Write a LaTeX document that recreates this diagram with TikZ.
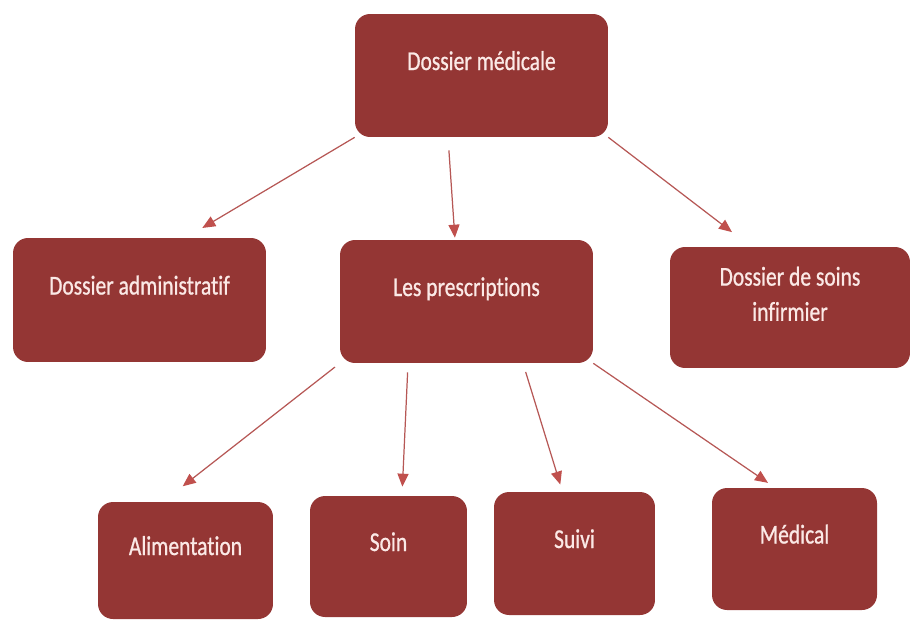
\documentclass[tikz,border=0pt]{standalone}
\usepackage{fontspec}
\setmainfont[FakeStretch=0.79,FakeBold=0.8,Ligatures=NoCommon]{Carlito}
\usetikzlibrary{calc}
\usetikzlibrary{arrows.meta}
\definecolor{boxred}{HTML}{943634}
\definecolor{arrowred}{HTML}{C0504D}
\definecolor{boxtext}{HTML}{FBE9E6}

\begin{document}
\begin{tikzpicture}
% pixel grid, y downwards
[
    x=0.02cm,y=-0.02cm,
    box/.style={rectangle,rounded corners=0.3cm,fill=boxred,text=boxtext,
      font=\fontsize{15.5pt}{20pt}\selectfont,align=center,
      text height=0.45cm,text depth=0.67cm,inner sep=0pt},
    link/.style={draw=arrowred!85!gray,line width=0.7pt,
      -{Triangle[length=0.26cm,width=0.22cm,color=arrowred]}}
]
\useasboundingbox (0,0) rectangle (911,619);

% top
\node[box,minimum width=5.06cm,minimum height=2.46cm] (dm) at (481.5,75.5) {Dossier médicale};

% second row
\node[box,minimum width=5.06cm,minimum height=2.48cm] (adm) at (139.5,300) {Dossier administratif};
\node[box,minimum width=5.06cm,minimum height=2.46cm] (pres) at (466.5,301.5) {Les prescriptions};
\node[box,minimum width=4.8cm,minimum height=2.42cm,text height=1.2cm] (soins) at (790,307.5) {Dossier de soins\\infirmier};

% third row
\node[box,minimum width=3.5cm,minimum height=2.34cm] (ali) at (185.5,560.5) {Alimentation};
\node[box,minimum width=3.14cm,minimum height=2.42cm] (soin) at (388.5,556.5) {Soin};
\node[box,minimum width=3.22cm,minimum height=2.46cm] (suivi) at (574.5,553.5) {Suivi};
\node[box,minimum width=3.3cm,minimum height=2.44cm] (med) at (794.5,549) {Médical};

% arrows from the top
\draw[link,shorten >=0.38cm] (dm.south west) -- ([xshift=0.93cm]adm.north);
\draw[link,shorten <=0.26cm,shorten >=0.04cm] ([xshift=-0.67cm]dm.south) -- ([xshift=-0.23cm]pres.north);
\draw[link,shorten >=0.48cm] (dm.south east) -- ([xshift=-0.78cm]soins.north);

% arrows from the prescriptions
\draw[link,shorten <=0.12cm,shorten >=0.5cm] (pres.south west) -- ([xshift=-0.45cm]ali.north);
\draw[link,shorten <=0.18cm,shorten >=0.18cm] ([xshift=-1.17cm]pres.south) -- ([xshift=0.27cm]soin.north);
\draw[link,shorten <=0.18cm,shorten >=0.15cm] ([xshift=1.13cm]pres.south) -- ([xshift=-0.24cm]suivi.north);
\draw[link,shorten >=0.17cm] (pres.south east) -- ([xshift=-0.39cm]med.north);
\end{tikzpicture}
\end{document}
